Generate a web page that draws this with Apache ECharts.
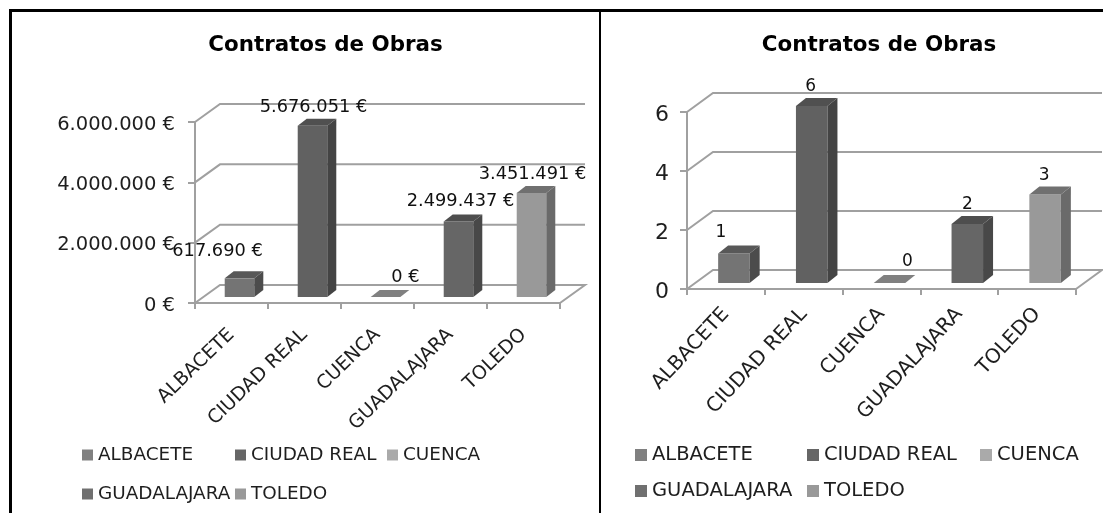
<!DOCTYPE html>
<html><head><meta charset="utf-8">
<style>html,body{margin:0;padding:0;background:#fff}#c{width:1103px;height:513px}</style>
<script src="https://cdn.jsdelivr.net/npm/echarts@6/dist/echarts.min.js"></script>
</head><body><div id="c"></div>
<script>
const categories = ['ALBACETE','CIUDAD REAL','CUENCA','GUADALAJARA','TOLEDO'];
const importeValues = [617690, 5676051, 0, 2499437, 3451491];
const contratosValues = [1, 6, 0, 2, 3];
const importeTicks = [0, 2000000, 4000000, 6000000];
const contratosTicks = [0, 2, 4, 6];
const titleText = 'Contratos de Obras';

const legendColors = ['#808080','#666666','#aaaaaa','#707070','#999999'];
const faceColors = [
  {front:'#747474', side:'#4c4c4c', top:'#585858'},
  {front:'#616161', side:'#444444', top:'#505050'},
  {front:'#808080', side:'#808080', top:'#808080'},
  {front:'#666666', side:'#484848', top:'#4e4e4e'},
  {front:'#999999', side:'#6a6a6a', top:'#707070'}
];
const euro = v => String(Math.round(v)).replace(/\B(?=(\d{3})+$)/g,'.') + ' €';
const plain = v => String(v);

const panels = [
 {values:importeValues, ticks:importeTicks, fmt:euro, left:195, top:122, width:365, height:181, max:6000000, interval:2000000,
  depth:[25,18], barOff:[8,6], barDepth:[9,7], yMargin:20, yPad:5, xMargin:29, xRot:44, yFont:19.5, xFont:19, labelFont:17.8, legendFont:18.4, legendIcon:11,
  titleX:320.5, legendX:[82,235,387,82,235], legendY:[454,454,454,493,493],
  labelShift:[[-22,-27],[1,-18],[20,-20],[2,-20],[1,-18]]},
 {values:contratosValues, ticks:contratosTicks, fmt:plain, left:687, top:112, width:389, height:177, max:6, interval:2,
  depth:[26,19], barOff:[8,6], barDepth:[10,8], yMargin:18, yPad:7, xMargin:22, xRot:47, yFont:22, xFont:20, labelFont:17, legendFont:19.5, legendIcon:12,
  titleX:874, legendX:[635,807,980,635,807], legendY:[453,453,453,489,489],
  labelShift:[[-13,-21],[-1,-19],[18,-21],[0,-19],[-1,-19]]}
];
const LINE='#a0a0a0', TXT='#1e1e1e', FONT='"DejaVu Sans",sans-serif';

const grid=[],xAxis=[],yAxis=[],series=[],legend=[],title=[];
panels.forEach((p,pi)=>{
  grid.push({left:p.left,top:p.top,width:p.width,height:p.height,containLabel:false});
  xAxis.push({type:'category',gridIndex:pi,data:categories,boundaryGap:true,
    axisLine:{lineStyle:{color:LINE,width:2}},
    axisTick:{show:true,length:6,alignWithLabel:false,lineStyle:{color:LINE,width:2}},
    axisLabel:{rotate:p.xRot,interval:0,margin:p.xMargin,color:TXT,fontFamily:FONT,fontSize:p.xFont,hideOverlap:false},
    splitLine:{show:false}});
  yAxis.push({type:'value',gridIndex:pi,min:0,max:p.max,interval:p.interval,
    axisLine:{show:true,lineStyle:{color:LINE,width:2}},
    axisTick:{show:true,length:7,lineStyle:{color:LINE,width:2}},
    axisLabel:{margin:p.yMargin,color:TXT,fontFamily:FONT,fontSize:p.yFont,
      formatter:v=>'{t|'+p.fmt(v)+'}',
      rich:{t:{fontFamily:FONT,fontSize:p.yFont,color:TXT,padding:[p.yPad,0,0,0]}}},
    splitLine:{show:false}});
  title.push({text:titleText,left:p.titleX,top:40,textAlign:'center',textVerticalAlign:'middle',
    textStyle:{fontFamily:FONT,fontWeight:'bold',fontSize:21.4,color:'#000'}});
  // receding walls and floor, one polyline per value-axis tick
  series.push({type:'custom',name:'walls'+pi,xAxisIndex:pi,yAxisIndex:pi,silent:true,clip:false,z:1,
    data:p.ticks.map(t=>[0,t]),encode:{x:0,y:1},
    renderItem(params,api){
      const y=api.coord([0,api.value(1)])[1];
      const x0=p.left,x1=p.left+p.width,[dx,dy]=p.depth;
      const pts=[[x0,y],[x0+dx,y-dy],[x1+dx,y-dy]];
      if(api.value(1)===0) pts.push([x1,y]);
      return {type:'polyline',shape:{points:pts},style:{stroke:LINE,lineWidth:2,fill:null}};
    }});
  categories.forEach((name,ci)=>{
    const c=faceColors[ci];
    series.push({type:'custom',name,xAxisIndex:pi,yAxisIndex:pi,silent:true,clip:false,z:3,
      itemStyle:{color:legendColors[ci]},
      data:[[ci,p.values[ci]]],encode:{x:0,y:1},
      renderItem(params,api){
        const v=api.value(1);
        const base=api.coord([ci,0]),tip=api.coord([ci,v]);
        const w=api.size([1,0])[0]*0.405;
        const [ox,oy]=p.barOff,[dx,dy]=p.barDepth;
        const xl=base[0]+ox-w/2,xr=xl+w,yb=base[1]-oy,yt=tip[1]-oy;
        const poly=(pts,fill)=>({type:'polygon',shape:{points:pts},style:{fill}});
        const kids=[];
        if(v>0){
          kids.push(poly([[xl,yb],[xr,yb],[xr,yt],[xl,yt]],c.front));
          kids.push(poly([[xr,yb],[xr+dx,yb-dy],[xr+dx,yt-dy],[xr,yt]],c.side));
        }
        kids.push(poly([[xl,yt],[xr,yt],[xr+dx,yt-dy],[xl+dx,yt-dy]],c.top));
        const s=p.labelShift[ci];
        kids.push({type:'text',z2:10,style:{text:p.fmt(v),x:base[0]+ox+s[0],y:yt+s[1],align:'center',verticalAlign:'middle',
          fill:'#111',font:p.labelFont+'px '+FONT}});
        return {type:'group',children:kids};
      }});
    legend.push({data:[name],orient:'horizontal',left:p.legendX[ci],top:p.legendY[ci]-8,padding:0,selectedMode:false,
      icon:'rect',itemWidth:p.legendIcon,itemHeight:p.legendIcon,itemGap:0,
      textStyle:{fontFamily:FONT,fontSize:p.legendFont,color:TXT}});
  });
});

const chart=echarts.init(document.getElementById('c'),null,{renderer:'canvas'});
chart.setOption({animation:false,backgroundColor:'#fff',title,grid,xAxis,yAxis,series,legend,
  graphic:[
    {type:'rect',shape:{x:9,y:9,width:1094,height:3},style:{fill:'#000'},silent:true},
    {type:'rect',shape:{x:9,y:9,width:3,height:504},style:{fill:'#000'},silent:true},
    {type:'rect',shape:{x:599,y:9,width:2,height:504},style:{fill:'#000'},silent:true}
  ]});
</script></body></html>
